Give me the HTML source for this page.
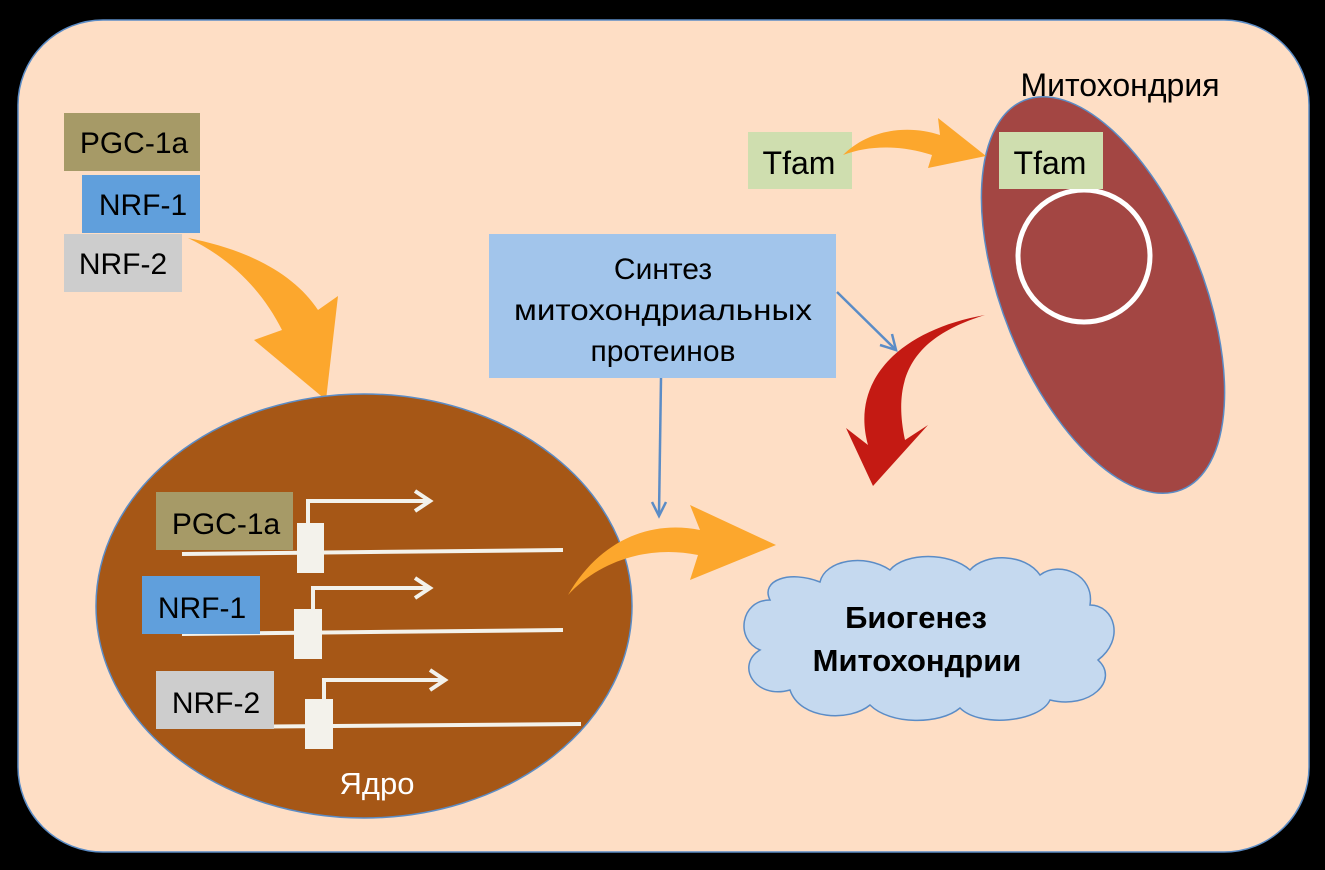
<!DOCTYPE html>
<html><head><meta charset="utf-8"><style>
html,body{margin:0;padding:0;background:#000;}
svg{display:block;font-family:"Liberation Sans",sans-serif;}
</style></head><body>
<svg width="1325" height="870" viewBox="0 0 1325 870" xmlns="http://www.w3.org/2000/svg">
<rect width="1325" height="870" fill="#000"/>
<rect x="18" y="20" width="1291" height="832" rx="85" fill="#fedec5" stroke="#5b8cc6" stroke-width="1.5"/>

<!-- left labels -->
<rect x="64" y="113" width="136" height="58" fill="#a69a67"/>
<text x="134" y="153" font-size="30" text-anchor="middle">PGC-1a</text>
<rect x="82" y="175" width="118" height="58" fill="#609fdc"/>
<text x="143" y="215" font-size="30" text-anchor="middle">NRF-1</text>
<rect x="64" y="234" width="118" height="58" fill="#cdcdcd"/>
<text x="123" y="274" font-size="30" text-anchor="middle">NRF-2</text>

<!-- big orange curved arrow -->
<path d="M188,238 C250,250 295,275 318,310 L338,296 L326,400 L254,340 L282,330 C262,290 230,258 188,238 Z" fill="#fca72d"/>

<!-- nucleus -->
<ellipse cx="364" cy="606" rx="268" ry="212" fill="#a65716" stroke="#5b8cc6" stroke-width="1.5"/>
<text x="377" y="794" font-size="31" fill="#fff" text-anchor="middle">Ядро</text>

<g stroke="#f3f2eb" stroke-width="4" fill="none">
<line x1="182" y1="554" x2="563" y2="550"/>
<polyline points="308,543 308,501 428,501"/>
<polyline points="415,491 430,501 415,511"/>
<line x1="182" y1="634" x2="563" y2="630"/>
<polyline points="313,630 313,588 428,588"/>
<polyline points="415,578 430,588 415,598"/>
<line x1="201" y1="727" x2="581" y2="724"/>
<polyline points="324,722 324,680 443,680"/>
<polyline points="430,670 445,680 430,690"/>
</g>
<rect x="156" y="492" width="137" height="58" fill="#a69a67"/>
<text x="226" y="534" font-size="30" text-anchor="middle">PGC-1a</text>
<rect x="142" y="576" width="118" height="58" fill="#609fdc"/>
<text x="202" y="618" font-size="30" text-anchor="middle">NRF-1</text>
<rect x="156" y="671" width="118" height="58" fill="#cdcdcd"/>
<text x="216" y="713" font-size="30" text-anchor="middle">NRF-2</text>
<g fill="#f3f2eb">
<rect x="297" y="523" width="27" height="50"/>
<rect x="294" y="609" width="28" height="50"/>
<rect x="305" y="699" width="28" height="50"/>
</g>
<g stroke="#f3f2eb" stroke-width="4" fill="none">
<line x1="308" y1="543" x2="308" y2="522"/>
<line x1="313" y1="630" x2="313" y2="608"/>
<line x1="324" y1="722" x2="324" y2="700"/>
</g>

<!-- orange arrow from nucleus -->
<path d="M568,595 C600,540 650,520 700,530 L690,505 L776,545 L690,580 L698,555 C650,545 600,560 568,595 Z" fill="#fca72d"/>

<!-- synthesis box -->
<rect x="489" y="234" width="347" height="144" fill="#a2c5eb"/>
<text x="663" y="279" font-size="30" text-anchor="middle">Синтез</text>
<text x="663" y="320" font-size="30" text-anchor="middle" textLength="298" lengthAdjust="spacingAndGlyphs">митохондриальных</text>
<text x="663" y="361" font-size="30" text-anchor="middle">протеинов</text>
<g stroke="#5b8cc6" stroke-width="2.5" fill="none">
<line x1="661" y1="378" x2="659" y2="515"/>
<polyline points="652,502 659,516 666,502"/>
<line x1="837" y1="292" x2="895" y2="349"/>
<polyline points="880,345 896,350 892,334"/>
</g>

<!-- cloud -->
<g fill="#c5d9ef" stroke="#5b8cc6" stroke-width="1.5">
<path d="M770,600 C740,600 735,640 760,650 C735,665 755,700 790,690 C800,720 850,722 870,705 C890,725 940,725 960,708 C980,728 1040,722 1050,700 C1090,710 1120,680 1098,660 C1125,640 1115,605 1090,605 C1095,575 1060,560 1040,575 C1025,553 985,553 970,570 C950,552 905,552 890,570 C865,553 825,560 820,582 C790,570 760,580 770,600 Z"/>
</g>
<text x="916" y="628" font-size="31" font-weight="bold" text-anchor="middle">Биогенез</text>
<text x="917" y="671" font-size="31" font-weight="bold" text-anchor="middle">Митохондрии</text>

<!-- mitochondrion -->
<text x="1120" y="96" font-size="32" text-anchor="middle">Митохондрия</text>
<ellipse cx="1103" cy="295" rx="100" ry="210" transform="rotate(-22 1103 295)" fill="#a34643" stroke="#5b8cc6" stroke-width="1.5"/>
<circle cx="1084" cy="256" r="66" fill="none" stroke="#fff" stroke-width="5"/>
<rect x="999" y="132" width="104" height="57" fill="#cfdeaf"/>
<text x="1050" y="174" font-size="32" text-anchor="middle">Tfam</text>
<rect x="748" y="132" width="104" height="57" fill="#cfdeaf"/>
<text x="799" y="174" font-size="32" text-anchor="middle">Tfam</text>
<path d="M843,155 C870,128 910,125 940,135 L938,118 L986,156 L928,168 L932,155 C900,145 870,145 843,155 Z" fill="#fca72d"/>

<!-- red arrow -->
<path d="M985,315 C920,335 890,370 905,440 L928,425 L873,486 L846,428 L868,445 C850,380 900,330 985,315 Z" fill="#c41a13"/>
</svg>
</body></html>
